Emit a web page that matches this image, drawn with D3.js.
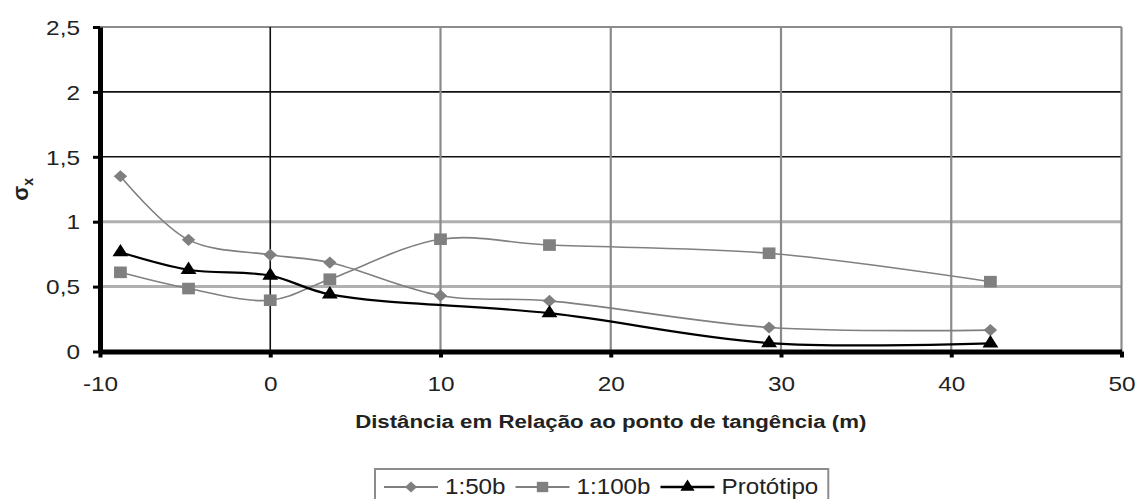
<!DOCTYPE html>
<html>
<head>
<meta charset="utf-8">
<script src="https://cdn.jsdelivr.net/npm/d3@7"></script>
<style>
  body { margin: 0; background: #fff; }
  text { font-family: "Liberation Sans", Arial, sans-serif; fill: #222; }
</style>
</head>
<body>
<svg id="chart" width="1139" height="499"></svg>
<script>
// values
const xTicks = [-10, 0, 10, 20, 30, 40, 50];
const yTicks = [0, 0.5, 1, 1.5, 2, 2.5];
const distModel = [-8.8, -4.8, 0, 3.5, 10, 16.4, 29.3, 42.3];
const sigma50 = [1.35, 0.86, 0.745, 0.685, 0.43, 0.39, 0.185, 0.165];
const sigma100 = [0.61, 0.485, 0.395, 0.557, 0.865, 0.82, 0.757, 0.538];
const distProto = [-8.8, -4.8, 0, 3.5, 16.4, 29.3, 42.3];
const sigmaProto = [0.765, 0.63, 0.585, 0.44, 0.295, 0.065, 0.063];
const seriesNames = ["1:50b", "1:100b", "Protótipo"];

const xTitle = "Distância em Relação ao ponto de tangência (m)";

const svg = d3.select("#chart");
const W = 1139, H = 499;
const margin = { left: 100, right: 17.5, top: 27, bottom: 147.5 };
const sx = 1.22; // the source picture is stretched sideways

svg.append("rect").attr("width", W).attr("height", H).attr("fill", "#fff");

const x = d3.scaleLinear().domain([-10, 50]).range([margin.left, W - margin.right]);
const y = d3.scaleLinear().domain([0, 2.5]).range([H - margin.bottom, margin.top]);

const fmt = d => String(d).replace(".", ",");

// grid lines - the scan mixes black and grey ones
const grid = svg.append("g");
grid.selectAll(".hgrid")
  .data(yTicks.filter(d => d > 0))
  .join("line")
  .attr("x1", x(-10)).attr("x2", x(50))
  .attr("y1", d => y(d)).attr("y2", d => y(d))
  .attr("stroke", d => (d === 2 || d === 1.5) ? "#111" : (d === 2.5 ? "#8c8c8c" : "#b0b0b0"))
  .attr("stroke-width", d => (d === 2 || d === 1.5) ? 1.6 : (d === 2.5 ? 2.2 : 3));

grid.selectAll(".vgrid")
  .data(xTicks.filter(d => d > -10))
  .join("line")
  .attr("x1", d => x(d)).attr("x2", d => x(d))
  .attr("y1", y(2.5)).attr("y2", y(0))
  .attr("stroke", d => d === 0 ? "#111" : "#8a8a8a")
  .attr("stroke-width", d => d === 0 ? 1.6 : 2.2);

// axes
const xAxis = svg.append("g")
  .attr("transform", `translate(0,${y(0)})`)
  .call(d3.axisBottom(x).tickValues(xTicks).tickSize(6).tickSizeOuter(0).tickFormat(fmt));
xAxis.select(".domain").attr("stroke", "#000").attr("stroke-width", 5);
xAxis.selectAll(".tick line").attr("stroke", "#000").attr("stroke-width", 4);
xAxis.selectAll(".tick text")
  .attr("y", 0).attr("dy", 0)
  .attr("transform", `translate(0,39) scale(${sx},1)`)
  .attr("font-size", 20).attr("fill", "#222");

const yAxis = svg.append("g")
  .attr("transform", `translate(${x(-10)},0)`)
  .call(d3.axisLeft(y).tickValues(yTicks).tickSize(7).tickSizeOuter(0).tickFormat(fmt));
yAxis.select(".domain").attr("stroke", "#000").attr("stroke-width", 5);
yAxis.selectAll(".tick line").attr("stroke", "#000").attr("stroke-width", 3);
yAxis.selectAll(".tick text")
  .attr("x", 0).attr("dy", "0.36em")
  .attr("transform", `translate(-20,0) scale(${sx},1)`)
  .attr("font-size", 20).attr("fill", "#222");
svg.selectAll(".tick text").style("font-family", '"Liberation Sans", Arial, sans-serif');

// series
const curve = d3.curveCatmullRom.alpha(0.5);
const line = d3.line().x(d => x(d[0])).y(d => y(d[1])).curve(curve);

const series = [
  { name: seriesNames[0], pts: d3.zip(distModel, sigma50), color: "#7f7f7f", width: 1.6, sym: d3.symbolDiamond2, size: 95 },
  { name: seriesNames[1], pts: d3.zip(distModel, sigma100), color: "#808080", width: 1.6, sym: d3.symbolSquare, size: 135 },
  { name: seriesNames[2], pts: d3.zip(distProto, sigmaProto), color: "#000", width: 2.2, sym: d3.symbolTriangle, size: 90 }
];

series.forEach(s => {
  const g = svg.append("g");
  g.append("path")
    .attr("d", line(s.pts))
    .attr("fill", "none")
    .attr("stroke", s.color)
    .attr("stroke-width", s.width);
  g.selectAll("path.mk")
    .data(s.pts)
    .join("path")
    .attr("class", "mk")
    .attr("d", d3.symbol(s.sym, s.size))
    .attr("transform", d => `translate(${x(d[0])},${y(d[1])}) scale(1.1,1)`)
    .attr("fill", s.color);
});

// axis titles
const yLab = svg.append("text")
  .attr("transform", `translate(28,${(y(0) + y(2.5)) / 2}) rotate(-90)`)
  .attr("text-anchor", "middle")
  .attr("font-size", 22).attr("font-weight", "bold").attr("fill", "#222");
yLab.append("tspan").text("σ");
yLab.append("tspan").attr("font-size", 14).attr("dy", 5).text("x");

svg.append("text")
  .attr("transform", `translate(${(x(-10) + x(50)) / 2},428) scale(1.27,1)`)
  .attr("text-anchor", "middle")
  .attr("font-size", 17.5).attr("font-weight", "bold")
  .text(xTitle);

// legend
const legend = svg.append("g").attr("transform", "translate(375,469)");
const legBox = legend.append("rect")
  .attr("x", 0).attr("y", 0).attr("height", 45)
  .attr("fill", "#fff").attr("stroke", "#8c8c8c").attr("stroke-width", 2);
let cx = 9;
series.forEach(s => {
  const it = legend.append("g").attr("transform", `translate(${cx},0)`);
  it.append("line").attr("x1", 0).attr("x2", 54).attr("y1", 18).attr("y2", 18)
    .attr("stroke", s.color).attr("stroke-width", s.width + 0.4);
  it.append("path").attr("d", d3.symbol(s.sym, s.size * 0.8))
    .attr("transform", "translate(27,18) scale(1.1,1)").attr("fill", s.color);
  const t = it.append("text")
    .attr("transform", `translate(61,25) scale(1.1,1)`)
    .attr("font-size", 22).text(s.name);
  cx += 61 + t.node().getComputedTextLength() * 1.1 + 10;
});
legBox.attr("width", cx);
</script>
</body>
</html>
